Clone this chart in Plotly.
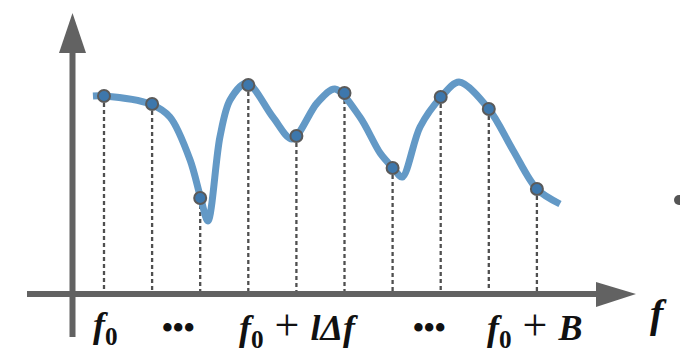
import plotly.graph_objects as go

# ---------------- data ----------------
# sampled subcarriers l = 0..9 (frequency in units of Δf) and their amplitudes
sample_f = [0, 1, 2, 3, 4, 5, 6, 7, 8, 9]
sample_amp = [19.8, 19.0, 9.6, 20.9, 15.8, 20.1, 12.6, 19.7, 18.5, 10.5]

# continuous channel response (knots)
curve_f = [-0.23, 0.0, 0.96, 1.37, 1.79, 2.01, 2.16, 2.41, 2.62, 2.97, 3.51, 3.91,
           4.43, 4.80, 5.32, 5.74, 6.01, 6.20, 6.57, 7.01, 7.38, 8.00, 8.50, 9.00, 9.48]
curve_amp = [19.8, 19.8, 19.0, 17.7, 13.4, 9.6, 7.3, 15.7, 19.4, 21.1, 17.7, 15.5,
             19.1, 20.5, 17.7, 14.1, 12.6, 11.7, 16.7, 19.7, 21.2, 18.5, 14.4, 10.5, 9.0]

PLUS = '<span style="font-size:44px;font-weight:normal"> + </span>'
tick_pos = [0.04, 1.54, 4.05, 6.77, 8.95]
tick_labels = ["<b><i>f</i><sub>0</sub></b>", "<b>•••</b>",
               f"<b><i>f</i><sub>0</sub></b>{PLUS}<b><i>lΔf</i></b>", "<b>•••</b>",
               f"<b><i>f</i><sub>0</sub></b>{PLUS}<b><i>B</i></b>"]
tick_sizes = [36, 31, 36, 31, 36]
axis_label = "<b><i>f</i></b>"

# ---------------- figure ----------------
W, H = 680, 358
X_RANGE = [-104 / 48.1, (W - 104) / 48.1]
Y_RANGE = [-(H - 294) / 10, 294 / 10]

AXIS_COLOR = "#626262"
CURVE_COLOR = "#6399C6"
DOT_COLOR = "#3D77AC"
DASH_COLOR = "#4f4f4f"

fig = go.Figure()

# dashed drop lines from each sample to the frequency axis
dx, dy = [], []
for f, a in zip(sample_f, sample_amp):
    dx += [f, f, None]
    dy += [a, 0, None]
fig.add_trace(go.Scatter(x=dx, y=dy, mode="lines",
                         line=dict(color=DASH_COLOR, width=2.3, dash="4px,3px"),
                         hoverinfo="skip", showlegend=False))

# continuous response
fig.add_trace(go.Scatter(x=curve_f, y=curve_amp, mode="lines",
                         line=dict(color=CURVE_COLOR, width=7, shape="spline", smoothing=0.9),
                         hoverinfo="skip", showlegend=False))

# sampled points
fig.add_trace(go.Scatter(x=sample_f, y=sample_amp, mode="markers",
                         marker=dict(size=12, color=DOT_COLOR,
                                     line=dict(color="#5a5a5a", width=2)),
                         hoverinfo="skip", showlegend=False))


def px(x):
    return x / W


def py(y):
    return 1 - y / H


shapes = [
    # frequency axis (horizontal) with arrow head
    dict(type="line", xref="paper", yref="paper", x0=px(27), x1=px(600), y0=py(294), y1=py(294),
         line=dict(color=AXIS_COLOR, width=6)),
    dict(type="path", xref="paper", yref="paper",
         path=f"M {px(596)} {py(282)} L {px(636)} {py(294)} L {px(596)} {py(307)} Z",
         fillcolor=AXIS_COLOR, line=dict(width=0)),
    # amplitude axis (vertical) with arrow head
    dict(type="line", xref="paper", yref="paper", x0=px(72.5), x1=px(72.5), y0=py(337), y1=py(50),
         line=dict(color=AXIS_COLOR, width=6)),
    dict(type="path", xref="paper", yref="paper",
         path=f"M {px(59)} {py(53)} L {px(72.5)} {py(13)} L {px(86)} {py(53)} Z",
         fillcolor=AXIS_COLOR, line=dict(width=0)),
    # stray dot at right edge
    dict(type="circle", xref="paper", yref="paper", x0=px(674), x1=px(684), y0=py(195), y1=py(205),
         fillcolor="#555555", line=dict(width=0)),
]

annotations = []
for pos, lab, sz in zip(tick_pos, tick_labels, tick_sizes):
    annotations.append(dict(x=pos, y=-3.3, xref="x", yref="y", text=lab, showarrow=False,
                            xanchor="center", yanchor="middle",
                            font=dict(family="Liberation Serif", size=sz, color="#111111")))
annotations.append(dict(x=px(658), y=py(313), xref="paper", yref="paper", text=axis_label,
                        showarrow=False, xanchor="center", yanchor="middle",
                        font=dict(family="Liberation Serif", size=40, color="#111111")))

fig.update_layout(
    width=W, height=H, margin=dict(l=0, r=0, t=0, b=0),
    paper_bgcolor="white", plot_bgcolor="white",
    xaxis=dict(range=X_RANGE, visible=False, fixedrange=True),
    yaxis=dict(range=Y_RANGE, visible=False, fixedrange=True),
    shapes=shapes, annotations=annotations, showlegend=False,
)

fig.write_html("out.html", config={"displayModeBar": False})
